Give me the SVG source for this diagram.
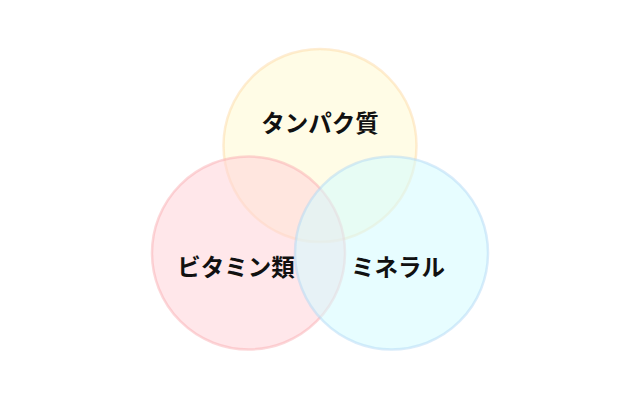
<svg xmlns="http://www.w3.org/2000/svg" width="640" height="400" viewBox="0 0 640 400">
<style>
.c{stroke-width:2.5;fill-opacity:0.55;stroke-opacity:0.45}
.t{font-family:"Noto Sans CJK JP","Noto Sans",sans-serif;font-weight:bold;font-size:23.5px;fill:#111;text-anchor:middle}
</style>
<rect width="640" height="400" fill="#fff"/>
<g id="protein"><circle class="c" cx="320" cy="145.5" r="96.5" fill="#FFFAD2" stroke="#FCD8A0"/></g>
<g id="vitamin"><circle class="c" cx="248.5" cy="253" r="96.5" fill="#FFD3D8" stroke="#F9A8AE"/></g>
<g id="mineral"><circle class="c" cx="391.5" cy="253" r="96.5" fill="#D3FBFF" stroke="#AED4F4"/></g>
<g id="labels">
<text class="t" x="320" y="132">タンパク質</text>
<text class="t" x="236" y="276">ビタミン類</text>
<text class="t" x="398" y="276">ミネラル</text>
</g>
</svg>
